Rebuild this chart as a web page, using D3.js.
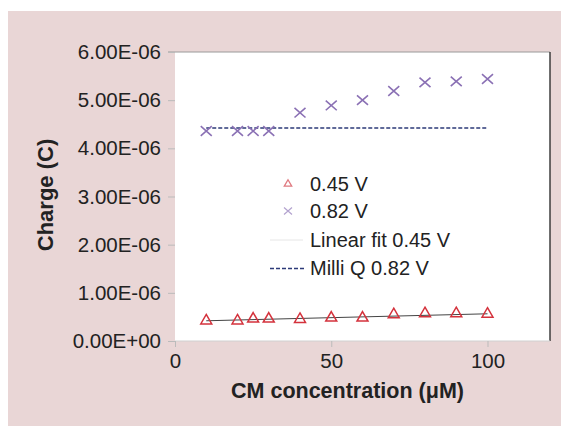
<!DOCTYPE html>
<html><head><meta charset="utf-8">
<script src="https://cdn.jsdelivr.net/npm/d3@7/dist/d3.min.js"></script>
<style>body{margin:0;background:#fff;}svg{display:block;font-family:"Liberation Sans",Arial,sans-serif;}</style>
</head><body>
<script>
const concentrations = [10, 20, 25, 30, 40, 50, 60, 70, 80, 90, 100];
const charge045 = [0.42e-6, 0.42e-6, 0.46e-6, 0.46e-6, 0.45e-6, 0.48e-6, 0.48e-6, 0.55e-6, 0.57e-6, 0.57e-6, 0.56e-6];
const charge082 = [4.36e-6, 4.36e-6, 4.36e-6, 4.36e-6, 4.74e-6, 4.89e-6, 5.00e-6, 5.19e-6, 5.37e-6, 5.39e-6, 5.44e-6];
const fitX = [10, 100];
const fitY = [0.42e-6, 0.565e-6];
const milliQX = [10, 100];
const milliQY = [4.42e-6, 4.42e-6];
const yTicks = [0, 1e-6, 2e-6, 3e-6, 4e-6, 5e-6, 6e-6];
const yTickLabels = ["0.00E+00","1.00E-06","2.00E-06","3.00E-06","4.00E-06","5.00E-06","6.00E-06"];
const xTicks = [0, 50, 100];
const legendLabels = ["0.45 V", "0.82 V", "Linear fit 0.45 V", "Milli Q 0.82 V"];

const W = 561, H = 426;
const svg = d3.select("body").append("svg").attr("width", W).attr("height", H);
svg.append("rect").attr("x", 8).attr("y", 11).attr("width", W - 8).attr("height", H - 11).attr("fill", "#e9d6d6");

const L = 175, R = 550, T = 52, B = 341;
const x = d3.scaleLinear().domain([0, 120]).range([L, R]);
const y = d3.scaleLinear().domain([0, 6e-6]).range([B, T]);

svg.append("rect").attr("x", L).attr("y", T).attr("width", R - L).attr("height", B - T).attr("fill", "#fff");

// frame lines
svg.append("line").attr("x1", L - 7).attr("x2", R).attr("y1", T).attr("y2", T).attr("stroke", "#9a9a9a").attr("stroke-width", 1);
svg.append("line").attr("x1", R).attr("x2", R).attr("y1", T).attr("y2", B).attr("stroke", "#222").attr("stroke-width", 1.3);
svg.append("line").attr("x1", L).attr("x2", R).attr("y1", B).attr("y2", B).attr("stroke", "#d0d0d0").attr("stroke-width", 1);

// y axis
const yAxis = d3.axisLeft(y).tickValues(yTicks).tickSize(7).tickPadding(7)
  .tickFormat((d, i) => yTickLabels[i]);
const gy = svg.append("g").attr("transform", `translate(${L},0)`).call(yAxis);
gy.select(".domain").remove();
gy.selectAll(".tick line").attr("stroke", "#bbb");
gy.selectAll(".tick text").attr("font-size", 20.5).attr("fill", "#222").attr("font-family", "Liberation Sans, Arial, sans-serif");

// x axis
const xAxis = d3.axisBottom(x).tickValues(xTicks).tickSize(6).tickPadding(6);
const gx = svg.append("g").attr("transform", `translate(0,${B})`).call(xAxis);
gx.select(".domain").remove();
gx.selectAll(".tick line").attr("stroke", "#bbb");
gx.selectAll(".tick text").attr("font-size", 20.5).attr("fill", "#222").attr("font-family", "Liberation Sans, Arial, sans-serif");

// titles
svg.append("text").attr("x", 347.5).attr("y", 398).attr("text-anchor", "middle")
  .attr("font-weight", "bold").attr("font-size", 21.5).attr("fill", "#222").text("CM concentration (μM)");
svg.append("text").attr("transform", "translate(53,195) rotate(-90)").attr("text-anchor", "middle")
  .attr("font-weight", "bold").attr("font-size", 22).attr("fill", "#222").text("Charge (C)");

// milli Q dashed line
const line = d3.line().x(d => x(d[0])).y(d => y(d[1]));
svg.append("path").datum(d3.zip(milliQX, milliQY)).attr("d", line)
  .attr("fill", "none").attr("stroke", "#2c3a78").attr("stroke-width", 1.5).attr("stroke-dasharray", "4,2");

// linear fit
svg.append("path").datum(d3.zip(fitX, fitY)).attr("d", line)
  .attr("fill", "none").attr("stroke", "#444").attr("stroke-width", 1);

// 0.82 V x marks
const xm = 5.5, ym = 4.8;
svg.append("g").selectAll("path").data(d3.zip(concentrations, charge082)).join("path")
  .attr("d", d => {
    const cx = x(d[0]), cy = y(d[1]);
    return `M${cx - xm},${cy - ym}L${cx + xm},${cy + ym}M${cx - xm},${cy + ym}L${cx + xm},${cy - ym}`;
  })
  .attr("fill", "none").attr("stroke", "#8a70b4").attr("stroke-width", 1.6);

// 0.45 V triangles
const tri = d3.symbol().type(d3.symbolTriangle).size(52);
svg.append("g").selectAll("path").data(d3.zip(concentrations, charge045)).join("path")
  .attr("transform", d => `translate(${x(d[0])},${y(d[1])})`)
  .attr("d", tri).attr("fill", "none").attr("stroke", "#d4323c").attr("stroke-width", 1.5);

// legend
const lg = svg.append("g");
const lx = 288, ltx = 310;
const rows = [184, 211, 240, 268.5];
lg.append("path").attr("transform", `translate(${lx},${rows[0]})`).attr("d", d3.symbol().type(d3.symbolTriangle).size(24))
  .attr("fill", "none").attr("stroke", "#e07a80").attr("stroke-width", 1.3);
lg.append("path").attr("d", `M${lx - 4},${rows[1] - 3.5}L${lx + 4},${rows[1] + 3.5}M${lx - 4},${rows[1] + 3.5}L${lx + 4},${rows[1] - 3.5}`)
  .attr("fill", "none").attr("stroke", "#b3a3cf").attr("stroke-width", 1.2);
lg.append("line").attr("x1", 270).attr("x2", 303).attr("y1", rows[2]).attr("y2", rows[2]).attr("stroke", "#e6e6e6").attr("stroke-width", 1);
lg.append("line").attr("x1", 270).attr("x2", 304).attr("y1", rows[3]).attr("y2", rows[3]).attr("stroke", "#2c3a78").attr("stroke-width", 1.5).attr("stroke-dasharray", "4,2");
lg.selectAll("text").data(legendLabels).join("text")
  .attr("x", ltx).attr("y", (d, i) => rows[i] + 6.5).attr("font-size", 20).attr("fill", "#222").text(d => d);
</script>
</body></html>
